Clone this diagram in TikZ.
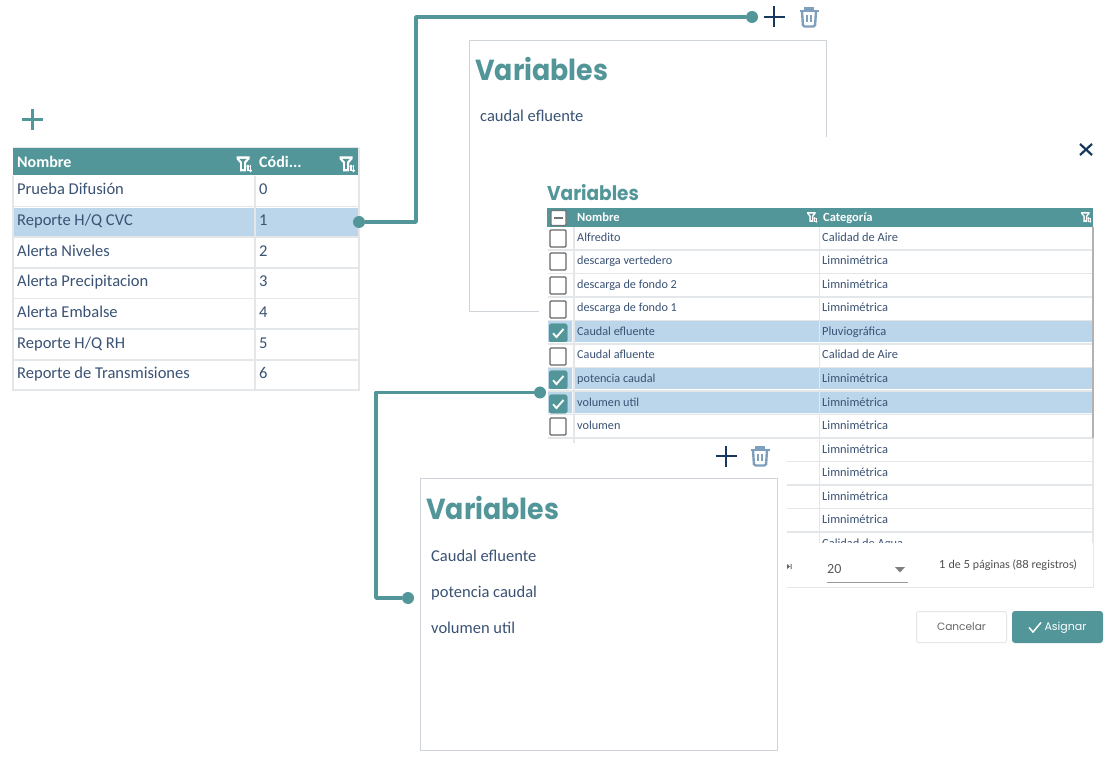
\documentclass[tikz,border=0pt]{standalone}
\usepackage{fontspec}
\setmainfont{Carlito}
\newfontfamily\titlefont[FakeStretch=0.925]{Poppins}
\newfontfamily\btnfont{Poppins}
\newfontfamily\uifont{Lato}
\definecolor{teal}{HTML}{529699}
\definecolor{sel}{HTML}{BBD6EA}
\definecolor{ink}{HTML}{3A5274}
\definecolor{darkink}{HTML}{17375E}
\definecolor{gridc}{HTML}{E4E7E9}
\definecolor{cardc}{HTML}{CFD3DA}
\definecolor{trashc}{HTML}{7FA0BC}
\tikzset{
  txt/.style={anchor=base west,inner sep=0pt,text=ink,font=\fontsize{#1}{#1}\selectfont},
  txt/.default=16,
  hdr/.style={anchor=base west,inner sep=0pt,text=white,font=\fontsize{#1}{#1}\selectfont\bfseries},
  title/.style={anchor=base west,inner sep=0pt,text=teal,font=\titlefont\fontsize{#1}{#1}\selectfont\bfseries},
  wire/.style={draw=teal,line width=3.4pt,line join=round},
  dotc/.style={circle,fill=teal,inner sep=0pt,minimum size=12pt},
  card/.style={draw=cardc,line width=.8pt,fill=white},
  gridl/.style={draw=gridc,line width=1.6pt},
  chk/.style={draw=#1,line width=1.4pt,rounded corners=1pt},
  chk/.default=black!60
}
\newcommand{\plusicon}[4]{\draw[#3,line width=#4pt] (#1-10.5,#2)--(#1+10.5,#2) (#1,#2-10.5)--(#1,#2+10.5);}
\newcommand{\trashicon}[2]{%
  \begin{scope}[shift={(#1,#2)},draw=trashc,line width=2.4pt]
  \draw (-9.5,-6)--(9.5,-6) (-3.5,-6)--(-3.5,-8.5)--(3.5,-8.5)--(3.5,-6);
  \draw[rounded corners=1.5pt] (-7,-6)--(-6,9.5)--(6,9.5)--(7,-6);
  \draw[line width=1.9pt] (-2.3,-2)--(-2.3,5) (2.3,-2)--(2.3,5);
  \end{scope}}
\newcommand{\filtericon}[3]{%
  \begin{scope}[shift={(#1,#2)},scale=#3]
  \fill[white] (-7.5,-7.5)--(5.5,-7.5)--(5.5,-5)--(2,-1)--(2,7.5)--(-4,7.5)--(-4,-1)--(-7.5,-5)--cycle;
  \fill[teal] (-4.5,-5)--(2.5,-5)--(-.2,-2)--(-.2,5)--(-1.8,5)--(-1.8,-2)--cycle;
  \draw[white,line width=1.2pt] (4,1.5)--(4,7.5) (6.5,1.5)--(6.5,7.5);
  \draw[white,line width=1.2pt] (2.8,3)--(4,1.5)--(5.2,3);
  \draw[white,line width=1.2pt] (5.3,6)--(6.5,7.5)--(7.7,6);
  \end{scope}}
\newcommand{\ticked}[1]{%
  \fill[teal,rounded corners=1.5pt] (549,#1-8.5) rectangle (567,#1+9.5);
  \draw[white,line width=1.9pt] (553,#1+.8)--(556.5,#1+4.5)--(563.5,#1-3.5);}
\newcommand{\unticked}[1]{\draw[chk,fill=white] (550,#1-8) rectangle (566,#1+9);}
\begin{document}
\begin{tikzpicture}[x=1pt,y=-1pt]
\useasboundingbox (0,0) rectangle (1109,759);
\fill[white] (0,0) rectangle (1109,759);

% first table
\plusicon{32}{120}{teal}{3}
\fill[sel] (14,208) rectangle (358,236);
\fill[teal] (13,148) rectangle (359,175.5);
\draw[gridl] (13,176)--(13,390)--(359,390)--(359,148);
\draw[gridl] (255,176)--(255,390);
\foreach \y in {206.5,237,268,298.5,329,360} \draw[gridl] (14,\y)--(358,\y);
\draw[gridc,line width=1pt] (13,148)--(359,148);
\node[hdr=16] (h1) at (17,168) {Nombre};
\node[hdr=16] (h2) at (259,168) {Códi...};
\filtericon{244}{164}{1}
\filtericon{347}{164}{1}
\foreach \n/\t/\c/\y in {a/Prueba Difusión/0/195,b/Reporte H\slash Q CVC/1/226,c/Alerta Niveles/2/257,d/Alerta Precipitacion/3/287,e/Alerta Embalse/4/318,f/Reporte H\slash Q RH/5/349,g/Reporte de Transmisiones/6/379}{
  \node[txt=16.5] (r\n) at (17,\y) {\t};
  \node[txt=16.5] (c\n) at (259,\y) {\c};
}

% card behind the dialog
\draw[card] (469.5,40) rectangle (826.5,311);
\node[title=29] (v1) at (475,80.5) {Variables};
\node[txt=16.5] (v1a) at (480,122) {caudal efluente};
\plusicon{774}{17}{darkink}{2.5}
\trashicon{809}{17}

% dialog
\fill[white] (539,137) rectangle (1109,312);
\fill[white] (540,312) rectangle (1109,759);
\draw[darkink,line width=2.2pt] (1080,144)--(1092,155) (1092,144)--(1080,155);
\node[title=20] (v2) at (547,200.5) {Variables};
\fill[teal] (547,208) rectangle (1093,227);
\foreach \y in {321,368,392} \fill[sel] (574,\y) rectangle (1092,\y+21) (548,\y) rectangle (572,\y+21);
\foreach \y in {250,273.5,297,320.5,344,367.5,391,414.5,438,461.5,485,508.5,532} \draw[gridl,line width=1.3pt] (548,\y)--(1092,\y);
\draw[gridl,line width=1.3pt] (574,227)--(574,543) (819.5,227)--(819.5,543);
\draw[gray!60,line width=1.3pt] (1093,227)--(1093,438);
\draw[gridl,line width=1.3pt] (1093,438)--(1093,543);
\draw[chk=black!55,fill=white] (551,210.5) rectangle (566,225.5);
\draw[black!55,line width=1.4pt] (554,218)--(563,218);
\node[hdr=12.5] (h3) at (577,222) {Nombre};
\node[hdr=12.5] (h4) at (823,222) {Categoría};
\filtericon{812}{217}{.65}
\filtericon{1086}{217}{.65}
\foreach \n/\t/\c/\y in {a/Alfredito/Calidad de Aire/241.5,b/descarga vertedero/Limnimétrica/264.5,c/descarga de fondo 2/Limnimétrica/288.5,d/descarga de fondo 1/Limnimétrica/311.5,e/Caudal efluente/Pluviográfica/335.5,f/Caudal afluente/Calidad de Aire/358.5,g/potencia caudal/Limnimétrica/382.5,h/volumen util/Limnimétrica/406.5,i/volumen/Limnimétrica/429.5}{
  \node[txt=12.2] (d\n) at (577,\y) {\t};
  \node[txt=12.4] (k\n) at (822,\y) {\c};
}
\foreach \n/\y in {l/453.5,m/476.5,n/500.5,o/523.5} \node[txt=12.4] (k\n) at (822,\y) {Limnimétrica};
\node[txt=12.4] (kp) at (822,547.5) {Calidad de Agua};
\foreach \y in {238,261,285,309,356,426} \unticked{\y}
\foreach \y in {332.5,379.5,403.5} \ticked{\y}
% clip below table
\fill[white] (540,543) rectangle (1109,759);
% pagination
\draw[gridc,line width=1pt] (787,587)--(1093,587)--(1093,543);
\fill[black!60] (787,564)--(790,566.5)--(787,569)--cycle (790.5,564) rectangle (791.5,569);
\node[txt=14,text=black!65] (pp) at (827,573.5) {20};
\draw[black!40,line width=.8pt] (827,582)--(908,582);
\fill[black!50] (895,567)--(905,567)--(900,572.5)--cycle;
\node[anchor=base west,inner sep=0pt,text=black!70,font=\uifont\fontsize{11.2}{11}\selectfont] (pi) at (939,568) {1 de 5 páginas (88 registros)};
% buttons
\node[draw=gridc,line width=1pt,rounded corners=2pt,minimum width=90pt,minimum height=31pt,inner sep=0pt,text height=8pt,text depth=2pt,text=black!60,font=\btnfont\fontsize{10.6}{11}\selectfont] (bc) at (961.5,627) {Cancelar};
\node[fill=teal,rounded corners=3pt,minimum width=91pt,minimum height=32pt,inner sep=0pt,text height=8pt,text depth=2pt,text=white,font=\btnfont\fontsize{11}{11}\selectfont] (ba) at (1057.5,627) {\hspace*{16pt}Asignar};
\draw[white,line width=1.5pt] (1029,627.5)--(1033,632)--(1041,622.5);

% front card
\fill[white] (420,443) rectangle (787,590);
\draw[card] (420.5,478.5) rectangle (777.5,750);
\fill[white] (421,590) rectangle (777,749);
\plusicon{726}{456}{darkink}{2.5}
\trashicon{760}{456}
\node[title=29] (v3) at (426,519.5) {Variables};
\node[txt=16.5] (w1) at (431,561) {Caudal efluente};
\node[txt=16.5] (w2) at (431,597) {potencia caudal};
\node[txt=16.5] (w3) at (431,633) {volumen util};

% connectors
\node[dotc] (p1) at (359,222) {};
\node[dotc] (p2) at (752,17) {};
\node[dotc] (p3) at (540,392.5) {};
\node[dotc] (p4) at (408,598) {};
\coordinate (t1) at (416,222);
\coordinate (t2) at (416,17);
\coordinate (t3) at (376,392.5);
\coordinate (t4) at (376,598);
\draw[wire] (p1) -- (t1) -- (t2) -- (p2);
\draw[wire] (p3) -- (t3) -- (t4) -- (p4);
\end{tikzpicture}
\end{document}
